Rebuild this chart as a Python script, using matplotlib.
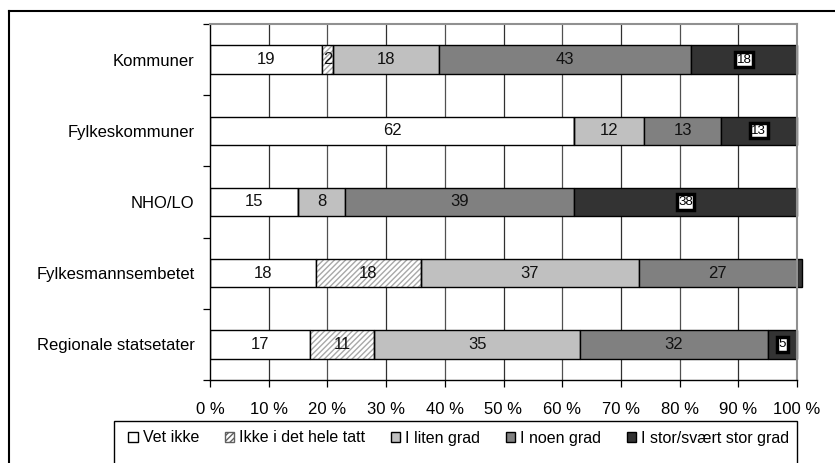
import matplotlib
matplotlib.use("Agg")
import matplotlib.pyplot as plt
from matplotlib.patches import Rectangle
from matplotlib.lines import Line2D
import numpy as np

plt.rcParams['font.family'] = ['Liberation Sans', 'DejaVu Sans']

categories = ["Kommuner", "Fylkeskommuner", "NHO/LO", "Fylkesmannsembetet", "Regionale statsetater"]
series_names = ["Vet ikke", "Ikke i det hele tatt", "I liten grad", "I noen grad", "I stor/svært stor grad"]
vet_ikke = [19, 62, 15, 18, 17]
ikke_i_det_hele = [2, 0, 0, 18, 11]
liten_grad = [18, 12, 8, 37, 35]
noen_grad = [43, 13, 39, 27, 32]
stor_grad = [18, 13, 38, 0.8, 5]
xtick_labels = ["0 %", "10 %", "20 %", "30 %", "40 %", "50 %", "60 %", "70 %", "80 %", "90 %", "100 %"]

series = [vet_ikke, ikke_i_det_hele, liten_grad, noen_grad, stor_grad]
colors = ["white", "white", "#C0C0C0", "#808080", "#333333"]

W, H = 835, 463
fig = plt.figure(figsize=(W / 100, H / 100), dpi=100)
ax = fig.add_axes([210 / W, 1 - 380 / H, (797 - 210) / W, (380 - 24) / H])

y = np.arange(len(categories))
left = np.zeros(len(categories))
bh = 0.4

FS = 12

# grid
ax.set_axisbelow(True)
for xv in range(10, 101, 10):
    ax.axvline(xv, color="#303030" if xv % 20 else "#505050", lw=0.9, zorder=0)

for i, vals in enumerate(series):
    vals = np.array(vals, dtype=float)
    if i == 1:
        ax.barh(y, vals, left=left, height=bh, color="white", edgecolor="#A8A8A8",
                hatch="//////", linewidth=0, zorder=2)
        ax.barh(y, vals, left=left, height=bh, fill=False, edgecolor="black",
                linewidth=1.0, zorder=3)
    else:
        bars = ax.barh(y, vals, left=left, height=bh, color=colors[i], edgecolor="black",
                       linewidth=1.0, zorder=2)
        if i == 4:
            for b in bars:
                b.set_clip_on(False)
    for j, v in enumerate(vals):
        if v < 1:
            continue
        cx = left[j] + v / 2
        label = f"{v:g}"
        if i == 4:
            ax.text(cx, y[j], label, ha="center", va="center", fontsize=9.5, color="black",
                    zorder=5, bbox=dict(boxstyle="square,pad=0.12", facecolor="white",
                                        edgecolor="black", linewidth=2.5))
        else:
            ax.text(cx, y[j], label, ha="center", va="center", fontsize=FS,
                    color="#111111", zorder=5)
    left += vals

ax.set_xlim(0, 100)
ax.set_ylim(len(categories) - 0.5, -0.5)
ax.set_xticks(np.arange(0, 101, 10))
ax.set_xticklabels(xtick_labels, fontsize=FS)
ax.set_yticks(y)
ax.set_yticklabels(categories, fontsize=FS)
ax.set_yticks(np.arange(-0.5, len(categories), 1.0), minor=True)
ax.tick_params(axis="y", which="major", length=0, pad=11)
ax.tick_params(axis="y", which="minor", length=5, width=0.9, direction="out")
ax.tick_params(axis="x", which="major", length=5, width=0.9, direction="out", pad=11)

for s in ["left", "bottom"]:
    ax.spines[s].set_color("black")
    ax.spines[s].set_linewidth(1.0)
for s in ["top", "right"]:
    ax.spines[s].set_color("#909090")
    ax.spines[s].set_linewidth(1.5)

# outer chart frame (top and left)
fig.add_artist(Line2D([9 / W, 9 / W], [0, 1 - 11 / H], transform=fig.transFigure, color="black", lw=1.5))
fig.add_artist(Line2D([9 / W, 1], [1 - 11 / H, 1 - 11 / H], transform=fig.transFigure, color="black", lw=1.5))

# legend box
fig.add_artist(Rectangle((114 / W, -0.05), (797 - 114) / W, (0.05 + 1 - 421 / H),
                         transform=fig.transFigure, fill=False, edgecolor="black", lw=1.0))

handles = []
for i in range(5):
    if i == 1:
        handles.append(Rectangle((0, 0), 1, 1, facecolor="white", edgecolor="#606060",
                                 hatch="//////", lw=1.0))
    else:
        handles.append(Rectangle((0, 0), 1, 1, facecolor=colors[i], edgecolor="black", lw=1.0))
fig.legend(handles, series_names, loc="center", ncol=5,
           bbox_to_anchor=((114 + 797) / 2 / W + 0.004, 1 - 438 / H), frameon=False,
           fontsize=11.5, handlelength=0.6, handleheight=0.6, handletextpad=0.3,
           columnspacing=1.6, borderaxespad=0)

fig.savefig("out.png", dpi=100)
